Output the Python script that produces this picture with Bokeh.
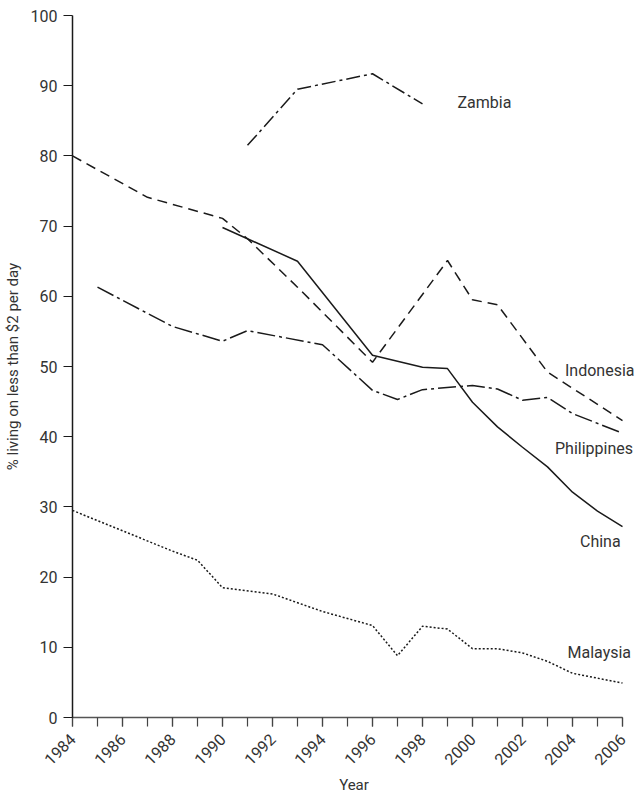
import math
from bokeh.plotting import figure
from bokeh.models import Label, SingleIntervalTicker, Range1d
from bokeh.embed import file_html
from bokeh.resources import INLINE

FONT = "Roboto"
TXT = "#333333"
INK = "#1a1a1a"

# ---- data ----
zambia_years = [1991, 1993, 1996, 1998]
zambia_vals = [81.5, 89.5, 91.7, 87.4]

indonesia_years = [1984, 1987, 1990, 1991, 1993, 1996, 1999, 2000, 2001, 2003, 2006]
indonesia_vals = [80.0, 74.1, 71.1, 68.2, 61.3, 50.6, 65.1, 59.5, 58.8, 49.2, 42.3]

china_years = [1990, 1993, 1996, 1998, 1999, 2000, 2001, 2002, 2003, 2004, 2005, 2006]
china_vals = [69.8, 65.0, 51.6, 49.9, 49.7, 44.9, 41.4, 38.5, 35.7, 32.1, 29.4, 27.2]

philippines_years = [1985, 1988, 1990, 1991, 1994, 1996, 1997, 1998, 2000, 2001, 2002, 2003, 2004, 2006]
philippines_vals = [61.3, 55.7, 53.6, 55.1, 53.1, 46.6, 45.3, 46.7, 47.3, 46.8, 45.2, 45.6, 43.3, 40.5]

malaysia_years = [1984, 1986, 1988, 1989, 1990, 1992, 1994, 1996, 1997, 1998, 1999, 2000, 2001, 2002, 2003, 2004, 2005, 2006]
malaysia_vals = [29.5, 26.6, 23.7, 22.4, 18.5, 17.6, 15.1, 13.1, 8.8, 13.0, 12.6, 9.8, 9.8, 9.2, 8.0, 6.3, 5.6, 4.9]

label_texts = ["Zambia", "Indonesia", "Philippines", "China", "Malaysia"]
label_x = [1999.4, 2003.7, 2003.3, 2004.3, 2003.8]
label_y = [87.6, 49.5, 38.3, 25.1, 9.2]

p = figure(output_backend="svg", toolbar_location=None,
           x_range=Range1d(1984, 2006.52), y_range=Range1d(0, 100),
           min_border_left=64, min_border_right=0, min_border_top=15, min_border_bottom=70,
           frame_width=563, frame_height=702)
p.outline_line_color = None
p.grid.grid_line_color = None
p.background_fill_color = "white"
p.border_fill_color = "white"

# lines
p.line(zambia_years, zambia_vals, line_color=INK, line_width=1.5, line_dash="14 4 3 4")
p.line(indonesia_years, indonesia_vals, line_color=INK, line_width=1.5, line_dash="10 6")
p.line(china_years, china_vals, line_color=INK, line_width=1.5)
p.line(philippines_years, philippines_vals, line_color=INK, line_width=1.5, line_dash="18 4 3 4")
p.line(malaysia_years, malaysia_vals, line_color=INK, line_width=1.5, line_dash="2 2")

for t, x, y in zip(label_texts, label_x, label_y):
    p.add_layout(Label(x=x, y=y, text=t, text_font=FONT, text_font_size="16px",
                       text_color=TXT, text_align="left", text_baseline="middle"))

# axes
xa = p.xaxis[0]
xa.ticker = SingleIntervalTicker(interval=2, num_minor_ticks=2)
xa.bounds = (1984, 2006)
xa.major_tick_out = 9
xa.major_tick_in = 0
xa.minor_tick_out = 9
xa.minor_tick_in = 0
xa.major_label_orientation = math.pi / 4
xa.axis_label = "Year"
ya = p.yaxis[0]
ya.ticker = SingleIntervalTicker(interval=10, num_minor_ticks=0)
ya.major_tick_out = 9
ya.major_tick_in = 0
ya.axis_label = "% living on less than $2 per day"
for ax in (xa, ya):
    ax.axis_line_color = INK
    ax.axis_line_width = 1.5
    ax.major_tick_line_color = INK
    ax.major_tick_line_width = 1.2
    ax.minor_tick_line_width = 1.2
    ax.major_label_text_font = FONT
    ax.major_label_text_font_size = "16px"
    ax.major_label_text_color = TXT
    ax.axis_label_text_font = FONT
    ax.axis_label_text_font_size = "15px"
    ax.axis_label_text_font_style = "normal"
    ax.axis_label_text_color = TXT
xa.axis_line_color = "#555555"
xa.major_tick_line_color = "#444444"
xa.minor_tick_line_color = "#444444"
ya.minor_tick_line_color = None
ya.major_label_standoff = 6
ya.axis_label_standoff = 6
xa.major_label_standoff = 10
xa.axis_label_standoff = 3

open("out.html", "w").write(file_html(p, INLINE))
